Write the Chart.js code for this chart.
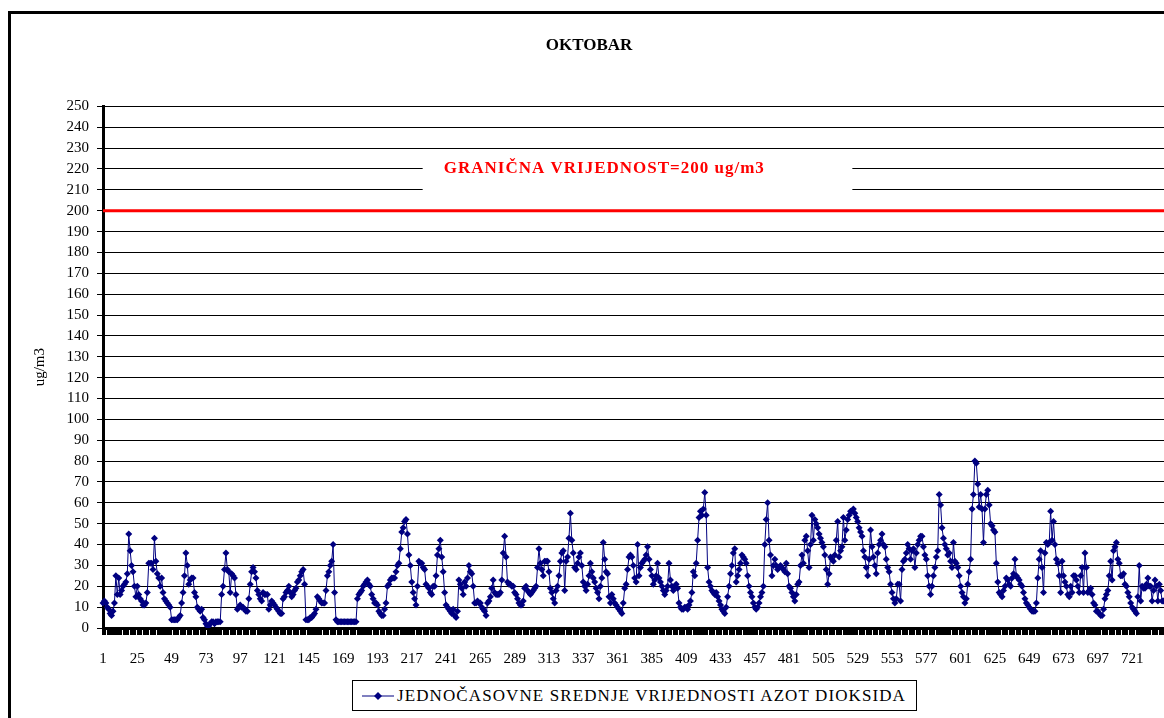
<!DOCTYPE html>
<html>
<head>
<meta charset="utf-8">
<script src="https://cdn.jsdelivr.net/npm/chart.js@4.4.1/dist/chart.umd.min.js"></script>
<style>
  html, body { margin:0; padding:0; background:#fff; overflow:hidden; width:1164px; height:718px; }
  #frame { position:absolute; left:8px; top:11px; width:1200px; height:800px; border:3px solid #000; box-sizing:border-box; }
  #wrap { position:absolute; left:0; top:0; width:1180px; height:718px; }
  #legend { position:absolute; left:352px; top:680px; width:565px; height:31px; border:1px solid #000; box-sizing:border-box;
            font-family:"Liberation Serif","Times New Roman",serif; font-size:17px; letter-spacing:1.1px; color:#000; display:flex; align-items:center; background:#fff; white-space:nowrap; }
  #legend svg { margin-left:9px; margin-right:3px; }
</style>
</head>
<body>
<div id="frame"></div>
<div id="wrap"><canvas id="c" width="1180" height="718"></canvas></div>
<div id="legend"><svg width="32" height="12"><line x1="0" y1="6" x2="32" y2="6" stroke="#000080" stroke-width="1"/><polygon points="16,2 20,6 16,10 12,6" fill="#000080"/></svg><span>JEDNOČASOVNE SREDNJE VRIJEDNOSTI AZOT DIOKSIDA</span></div>
<script>
// ---- data ----
const chartTitle = 'OKTOBAR';
const seriesName = 'JEDNOČASOVNE SREDNJE VRIJEDNOSTI AZOT DIOKSIDA';
const yAxisTitle = 'ug/m3';
const limitValue = 200;
const limitText = 'GRANIČNA VRIJEDNOST=200 ug/m3';
const yMin = 0, yMax = 250, yStep = 10;
const labelEvery = 24;
const tickMarkEvery = 5;

// hourly NO2 values (ug/m3), 31 days x 24 h
const no2Values = [
 12,13,12,10,9,7,6,8,12,25,16,24,16,18,20,21,22,26,45,37,30,27,20,15,
 20,16,14,13,11,11,12,17,31,31,31,28,43,32,26,24,20,24,17,14,13,12,11,10,
 4,4,4,4,4,5,6,12,17,25,36,30,21,23,24,24,17,15,10,9,8,9,5,4,
 2,1,1,2,3,3,2,3,3,3,3,16,20,28,36,28,27,17,26,25,24,16,9,10,
 11,10,10,9,8,8,14,21,27,29,27,24,18,16,14,13,17,16,16,16,9,11,13,12,
 11,10,9,8,7,7,14,15,17,18,20,17,15,16,18,19,22,23,25,27,28,21,4,4,
 4,5,5,6,7,9,15,14,13,12,12,12,18,25,27,30,32,40,17,4,3,3,3,3,
 3,3,3,3,3,3,3,3,3,3,14,16,17,18,20,21,22,23,21,20,16,14,12,12,
 11,8,7,6,6,9,12,20,21,23,24,24,24,27,30,31,38,46,48,51,52,45,35,30,
 22,17,14,11,20,32,31,31,29,28,21,20,19,17,16,20,20,25,35,38,42,34,27,17,
 11,10,9,8,7,9,6,5,8,23,21,19,16,22,20,24,30,27,26,20,12,12,13,12,
 12,10,9,8,6,12,13,15,19,23,17,16,16,16,17,23,36,44,34,22,21,21,20,20,
 17,16,14,12,11,11,13,19,20,18,17,16,17,18,19,20,29,38,31,28,25,32,32,32,
 27,19,17,14,12,18,20,25,32,36,37,18,32,34,43,55,42,36,29,28,31,34,36,30,
 22,20,18,21,25,31,27,24,22,19,17,14,20,24,41,33,27,26,15,12,16,14,12,11,
 10,9,8,7,12,19,21,28,34,35,34,30,24,22,40,25,29,31,32,33,35,39,33,28,
 25,21,23,25,31,24,22,20,18,16,18,20,31,23,20,18,20,21,19,12,10,9,9,10,
 10,9,11,13,17,27,25,31,42,53,56,54,57,65,54,29,22,20,18,17,16,17,15,13,
 11,9,8,7,10,15,20,26,30,36,38,22,25,28,31,35,34,33,31,25,20,17,15,12,
 10,9,10,12,15,17,20,40,52,60,42,35,25,30,33,30,28,29,30,29,28,27,31,26,
 20,19,17,15,13,16,21,22,30,35,31,42,44,37,29,40,54,42,52,50,48,45,43,41,
 39,35,28,21,26,34,33,32,35,42,51,34,37,39,53,42,47,52,54,56,56,57,55,53,
 51,48,46,44,37,34,29,25,33,47,39,34,30,26,36,40,42,45,40,39,33,29,27,21,
 17,14,12,14,21,21,13,28,32,33,36,40,38,33,37,38,29,36,40,42,44,44,39,35,
 33,25,20,16,20,25,29,34,37,64,59,48,43,40,38,35,36,32,29,41,32,31,29,25,
 20,17,15,12,14,21,27,33,57,64,80,79,69,58,64,57,41,57,64,66,59,50,49,47,
 46,31,22,17,16,15,18,20,24,23,21,20,24,26,33,25,24,23,21,20,17,14,12,11,
 10,9,8,8,8,12,24,33,37,29,17,36,41,40,41,56,42,51,40,33,31,25,17,32,
 25,22,20,16,15,20,17,25,25,23,20,17,25,29,17,36,29,17,18,19,16,12,11,8,
 8,7,6,6,9,14,16,18,25,32,23,37,39,41,33,31,25,25,26,21,20,17,15,12,
 10,9,8,7,15,30,13,20,19,19,21,24,20,20,13,18,23,20,13,21,18,13,13,13
];
// categories: hour numbers 1..N
const hours = no2Values.map((_, i) => String(i + 1));
const limitSeries = hours.map(() => limitValue);

const serif = '"Liberation Serif","Times New Roman",serif';

const tickMarksPlugin = {
  id: 'tickMarks',
  afterDraw(chart) {
    const ctx = chart.ctx;
    const xs = chart.scales.x;
    const y0 = xs.top;
    const x0 = xs.left, x1 = xs.right;
    const n = no2Values.length;
    ctx.save();
    ctx.fillStyle = '#000000';
    for (let i = 0; i < n; i += tickMarkEvery) {
      let px = xs.getPixelForValue(i);
      if (!isFinite(px)) { px = x0 + (x1 - x0) * i / (n - 1); }
      ctx.fillRect(Math.round(px) - 1, y0, 4, 7);
    }
    ctx.restore();
  }
};

const limitLabelPlugin = {
  id: 'limitLabel',
  afterDraw(chart) {
    const { ctx, chartArea: a, scales: { y } } = chart;
    const w = a.right - a.left;
    const bx0 = a.left + 0.301 * w, bx1 = a.left + 0.7056 * w;
    const by0 = y.getPixelForValue(227.5), by1 = y.getPixelForValue(207);
    ctx.save();
    ctx.fillStyle = '#fff';
    ctx.fillRect(bx0, by0, bx1 - bx0, by1 - by0);
    ctx.fillStyle = '#ff0000';
    ctx.font = 'bold 17px ' + serif;
    ctx.letterSpacing = '1px';
    ctx.textAlign = 'center';
    ctx.textBaseline = 'middle';
    ctx.fillText(limitText, a.left + 0.472 * w, y.getPixelForValue(220.3));
    ctx.restore();
  }
};

new Chart(document.getElementById('c'), {
  type: 'line',
  data: {
    labels: hours,
    datasets: [
      { label: seriesName, data: no2Values, borderColor: '#000080', backgroundColor: '#000080',
        borderWidth: 1, pointStyle: 'rectRot', pointRadius: 3.5, pointBorderWidth: 0, tension: 0, order: 1 },
      { label: 'limit', data: limitSeries, borderColor: '#ff0000', backgroundColor: '#ff0000',
        borderWidth: 3, pointRadius: 0, tension: 0, order: 2 }
    ]
  },
  options: {
    responsive: false, animation: false, devicePixelRatio: 1,
    layout: { padding: { left: 12, right: 14, top: 0, bottom: 50 } },
    plugins: {
      legend: { display: false },
      tooltip: { enabled: false },
      title: { display: true, text: chartTitle, color: '#000', font: { family: serif, size: 17, weight: 'bold' },
               padding: { top: 35, bottom: 51 } }
    },
    scales: {
      x: {
        type: 'category', offset: false,
        grid: { drawOnChartArea: false, drawTicks: true, tickLength: 7, color: '#000', lineWidth: 1 },
        border: { color: '#000', width: 3 },
        ticks: { autoSkip: false, maxRotation: 0, minRotation: 0, color: '#000', padding: 15,
                 font: { family: serif, size: 15 },
                 callback: function (v, i) { return i % labelEvery === 0 ? hours[i] : ''; } },
        afterFit: (s) => { s.height = 40; }
      },
      y: {
        min: yMin, max: yMax,
        ticks: { stepSize: yStep, autoSkip: false, color: '#000', padding: 8, font: { family: serif, size: 15 } },
        grid: { color: '#000', lineWidth: 1, tickLength: 6 },
        border: { color: '#000', width: 3 },
        title: { display: true, text: yAxisTitle, color: '#000', font: { family: serif, size: 15 }, padding: { top: 19 } },
        afterFit: (s) => { s.width = 91; }
      }
    }
  },
  plugins: [limitLabelPlugin, tickMarksPlugin]
});
</script>
</body>
</html>
